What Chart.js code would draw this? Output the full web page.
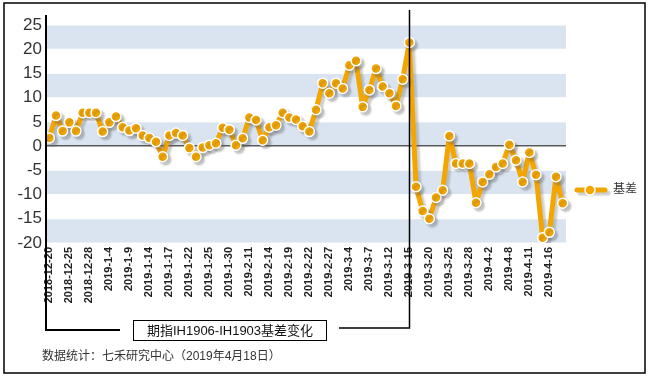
<!DOCTYPE html>
<html>
<head>
<meta charset="utf-8">
<script src="https://cdn.jsdelivr.net/npm/chart.js@4/dist/chart.umd.min.js"></script>
<style>
    html, body { margin: 0; padding: 0; background: #fff; }
    #wrap { width: 648px; height: 377px; position: relative; }
</style>
</head>
<body>
<div id="wrap"><canvas id="basisChart" width="648" height="377"></canvas></div>
<script>
// trading days 2018-12-20 .. 2019-4-18
const dates = [
    "2018-12-20", "2018-12-21", "2018-12-24", "2018-12-25", "2018-12-26", "2018-12-27", "2018-12-28",
    "2019-1-2", "2019-1-3", "2019-1-4", "2019-1-7", "2019-1-8", "2019-1-9", "2019-1-10", "2019-1-11",
    "2019-1-14", "2019-1-15", "2019-1-16", "2019-1-17", "2019-1-18", "2019-1-21", "2019-1-22", "2019-1-23",
    "2019-1-24", "2019-1-25", "2019-1-28", "2019-1-29", "2019-1-30", "2019-1-31", "2019-2-1",
    "2019-2-11", "2019-2-12", "2019-2-13", "2019-2-14", "2019-2-15", "2019-2-18", "2019-2-19", "2019-2-20",
    "2019-2-21", "2019-2-22", "2019-2-25", "2019-2-26", "2019-2-27", "2019-2-28", "2019-3-1",
    "2019-3-4", "2019-3-5", "2019-3-6", "2019-3-7", "2019-3-8", "2019-3-11", "2019-3-12", "2019-3-13",
    "2019-3-14", "2019-3-15", "2019-3-18", "2019-3-19", "2019-3-20", "2019-3-21", "2019-3-22",
    "2019-3-25", "2019-3-26", "2019-3-27", "2019-3-28", "2019-3-29", "2019-4-1", "2019-4-2", "2019-4-3",
    "2019-4-4", "2019-4-8", "2019-4-9", "2019-4-10", "2019-4-11", "2019-4-12", "2019-4-15", "2019-4-16",
    "2019-4-17", "2019-4-18"
];

const basis = [
    1.7, 6.3, 3.1, 4.9, 3.1, 6.9, 6.9,
    6.9, 3.0, 4.9, 6.1, 3.9, 3.2, 3.7, 2.2,
    1.7, 0.9, -2.2, 2.2, 2.7, 2.2, -0.4, -2.2,
    -0.3, 0.2, 0.6, 3.8, 3.4, 0.2, 1.6,
    5.9, 5.4, 1.2, 3.9, 4.3, 6.9, 5.9, 5.5,
    4.1, 3.0, 7.5, 13.0, 10.9, 13.0, 11.9,
    16.7, 17.6, 8.1, 11.6, 16.0, 12.3, 10.9, 8.3,
    13.8, 21.4, -8.4, -13.4, -15.0, -10.6, -9.1,
    2.1, -3.6, -3.6, -3.6, -11.7, -7.4, -5.8, -4.3,
    -3.6, 0.3, -2.9, -7.4, -1.3, -5.9, -18.9, -17.8,
    -6.3, -11.8
];

const yTicks = [-20, -15, -10, -5, 0, 5, 10, 15, 20, 25];
const bandRanges = [[20, 25], [10, 15], [0, 5], [-10, -5], [-20, -15]];
const markerDate = "2019-3-15";
const seriesName = "基差";
const boxTitle = "期指IH1906-IH1903基差变化";
const sourceNote = "数据统计：七禾研究中心（2019年4月18日）";

const orange = "#f3a500";
const fontFamily = "\"Liberation Sans\", Arial, \"Noto Sans CJK SC\", sans-serif";

Chart.defaults.font.family = fontFamily;

// alternating bands behind the plot
const bandsPlugin = {
    id: "bands",
    beforeDraw( chart ) {
        const { ctx, chartArea, scales } = chart;
        ctx.save();
        ctx.fillStyle = "#fff";
        ctx.fillRect( 0, 0, chart.width, chart.height );
        ctx.fillStyle = "#d9e4f0";
        bandRanges.forEach( r => {
            const yTop = scales.y.getPixelForValue( r[1] );
            const yBot = scales.y.getPixelForValue( r[0] );
            ctx.fillRect( chartArea.left, yTop + 0.5, chartArea.right - chartArea.left, yBot - yTop - 1 );
        } );
        ctx.restore();
    }
};

// soft shadow under the line
const shadowPlugin = {
    id: "lineShadow",
    beforeDatasetDraw( chart ) {
        const ctx = chart.ctx;
        ctx.save();
        ctx.shadowColor = "rgba(90, 90, 90, 0.3)";
        ctx.shadowOffsetX = 3;
        ctx.shadowOffsetY = 3;
        ctx.shadowBlur = 2;
    },
    afterDatasetDraw( chart ) {
        chart.ctx.restore();
    }
};

// frame, bracket lines, title box, legend and note
const decorPlugin = {
    id: "decor",
    afterDraw( chart ) {
        const { ctx, chartArea, scales } = chart;
        const xMark = Math.round( scales.x.getPixelForValue( dates.indexOf( markerDate ) ) ) + 0.5;
        const left = chartArea.left;
        ctx.save();

        ctx.strokeStyle = "#000";
        ctx.lineWidth = 1.5;
        ctx.strokeRect( 4, 3, 641, 370 );

        // left bracket
        ctx.lineWidth = 2;
        ctx.beginPath();
        ctx.moveTo( left, 15 );
        ctx.lineTo( left, 330 );
        ctx.lineTo( 120, 330 );
        ctx.stroke();

        // right bracket
        ctx.lineWidth = 1.5;
        ctx.beginPath();
        ctx.moveTo( 339, 328 );
        ctx.lineTo( xMark, 328 );
        ctx.lineTo( xMark, 10 );
        ctx.stroke();

        // title box
        ctx.lineWidth = 1;
        ctx.strokeRect( 133.5, 320.5, 193, 20 );
        ctx.fillStyle = "#111";
        ctx.font = "13px " + fontFamily;
        ctx.textAlign = "center";
        ctx.textBaseline = "middle";
        ctx.fillText( boxTitle, 230, 331 );

        // source note
        ctx.fillStyle = "#333";
        ctx.font = "12px " + fontFamily;
        ctx.textAlign = "left";
        ctx.fillText( sourceNote, 42, 357 );

        // legend
        const ly = 190;
        ctx.save();
        ctx.shadowColor = "rgba(90, 90, 90, 0.3)";
        ctx.shadowOffsetX = 3;
        ctx.shadowOffsetY = 3;
        ctx.shadowBlur = 2;
        ctx.strokeStyle = orange;
        ctx.lineWidth = 5;
        ctx.lineCap = "round";
        ctx.beginPath();
        ctx.moveTo( 577, ly );
        ctx.lineTo( 605, ly );
        ctx.stroke();
        ctx.restore();
        ctx.beginPath();
        ctx.arc( 590, ly, 5, 0, Math.PI * 2 );
        ctx.fillStyle = orange;
        ctx.fill();
        ctx.strokeStyle = "#fff";
        ctx.lineWidth = 1.5;
        ctx.stroke();
        ctx.fillStyle = "#333";
        ctx.font = "12px " + fontFamily;
        ctx.fillText( seriesName, 613, ly );

        ctx.restore();
    }
};

const canvas = document.getElementById( "basisChart" );
new Chart( canvas.getContext( "2d" ), {
    type: "line",
    data: {
        labels: dates,
        datasets: [{
            label: seriesName,
            data: basis,
            borderColor: orange,
            backgroundColor: orange,
            borderWidth: 5,
            borderJoinStyle: "round",
            borderCapStyle: "round",
            tension: 0,
            pointRadius: 5,
            pointBackgroundColor: orange,
            pointBorderColor: "#fff",
            pointBorderWidth: 1.5,
            fill: false
        }]
    },
    options: {
        responsive: false,
        animation: false,
        devicePixelRatio: 1,
        layout: { padding: { top: 25, right: 82, left: 0, bottom: 0 } },
        plugins: {
            legend: { display: false },
            tooltip: { enabled: false }
        },
        scales: {
            x: {
                type: "category",
                offset: true,
                grid: { display: false, drawTicks: false },
                border: { display: false },
                afterFit( scale ) { scale.height = 134; },
                ticks: {
                    autoSkip: false,
                    minRotation: 90,
                    maxRotation: 90,
                    padding: 4,
                    color: "#222",
                    font: { size: 11, weight: "bold" },
                    callback( value, index ) {
                        return index % 3 === 0 ? this.getLabelForValue( value ) : "";
                    }
                }
            },
            y: {
                min: -20,
                max: 25,
                afterFit( scale ) { scale.width = 46; },
                afterBuildTicks( scale ) { scale.ticks = yTicks.map( v => ( { value: v } ) ); },
                border: { display: false },
                grid: {
                    drawTicks: false,
                    lineWidth: 1.5,
                    color: c => c.tick && c.tick.value === 0 ? "#5a5a5a" : "rgba(0,0,0,0)"
                },
                ticks: {
                    padding: 4,
                    color: "#333",
                    font: { size: 17 }
                }
            }
        }
    },
    plugins: [bandsPlugin, shadowPlugin, decorPlugin]
} );
</script>
</body>
</html>
